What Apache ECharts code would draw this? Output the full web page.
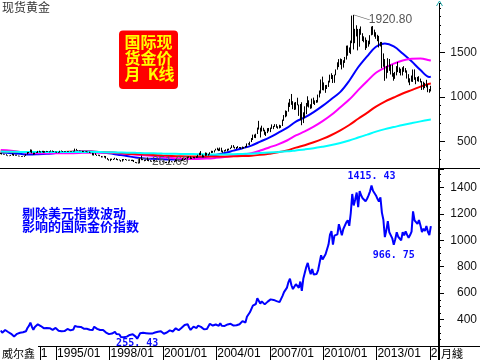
<!DOCTYPE html>
<html><head><meta charset="utf-8">
<script src="https://cdn.jsdelivr.net/npm/echarts@6/dist/echarts.min.js"></script>
<style>html,body{margin:0;padding:0;background:#fff}#c{width:480px;height:360px}</style>
</head><body><div id="c"></div>
<script>
// ---- categories: monthly, 1991/11 .. 2016/06 ----
const startYear = 1991, startMonth = 11, monthCount = 296;
const months = [];
for (let i = 0; i < monthCount; i++) {
  const t = startMonth - 1 + i;
  const y = startYear + Math.floor(t / 12), m = t % 12 + 1;
  months.push(y + '/' + (m < 10 ? '0' : '') + m);
}

// ---- spot gold monthly K (1991/11 .. 2016/01) ----
const kOpen = [358,366,
353,354,353,341,336,337,343,357,340,349,339,334,
333,330,327,337,354,377,378,401,372,355,370,371,
391,378,381,391,376,387,386,384,385,394,383,383,
383,375,376,392,389,385,387,383,382,384,383,387,
387,405,400,396,392,391,382,385,386,379,379,371,
369,345,364,348,340,345,334,326,325,332,311,296,
290,304,297,301,310,294,296,288,273,293,292,294,
288,287,287,279,286,268,261,255,254,299,299,291,
290,283,293,277,275,272,288,277,278,273,264,270,
273,266,267,258,264,267,270,265,273,293,278,275,
279,282,297,302,308,326,318,304,312,324,317,317,
347,368,348,334,337,364,346,354,376,385,386,398,
417,401,397,424,388,394,395,391,408,416,428,453,
438,422,435,428,435,417,436,430,434,473,470,495,
517,569,556,582,653,643,613,633,624,599,604,646,
632,650,665,662,679,659,650,665,673,743,789,783,
834,924,972,916,865,885,928,912,833,871,718,815,
884,928,942,916,884,979,927,954,955,1007,1040,1182,
1096,1083,1118,1113,1180,1213,1244,1181,1248,1307,1357,1385,
1421,1332,1410,1439,1556,1536,1500,1628,1826,1620,1722,1746,
1564,1737,1697,1668,1664,1561,1604,1614,1692,1773,1719,1712,
1675,1663,1578,1596,1476,1393,1234,1312,1396,1326,1323,1253,
1202,1244,1326,1284,1296,1250,1327,1282,1287,1210,1171,1182,
1184,1283,1213,1183,1183,1190,1172,1095,1133,1115,1142,1065,
1061];
const kClose = [366,353,
354,353,341,336,337,343,357,340,349,339,334,333,
330,327,337,354,377,378,401,372,355,370,371,391,
378,381,391,376,387,386,384,385,394,383,383,383,
375,376,392,389,385,387,383,382,384,383,387,387,
405,400,396,392,391,382,385,386,379,379,371,369,
345,364,348,340,345,334,326,325,332,311,296,290,
304,297,301,310,294,296,288,273,293,292,294,288,
287,287,279,286,268,261,255,254,299,299,291,290,
283,293,277,275,272,288,277,278,273,264,270,273,
266,267,258,264,267,270,265,273,293,278,275,279,
282,297,302,308,326,318,304,312,324,317,317,347,
368,348,334,337,364,346,354,376,385,386,398,417,
401,397,424,388,394,395,391,408,416,428,453,438,
422,435,428,435,417,436,430,434,473,470,495,517,
569,556,582,653,643,613,633,624,599,604,646,632,
650,665,662,679,659,650,665,673,743,789,783,834,
924,972,916,865,885,928,912,833,871,718,815,884,
928,942,916,884,979,927,954,955,1007,1040,1182,1096,
1083,1118,1113,1180,1213,1244,1181,1248,1307,1357,1385,1421,
1332,1410,1439,1556,1536,1500,1628,1826,1620,1722,1746,1564,
1737,1697,1668,1664,1561,1604,1614,1692,1773,1719,1712,1675,
1663,1578,1596,1476,1393,1234,1312,1396,1326,1323,1253,1202,
1244,1326,1284,1296,1250,1327,1282,1287,1210,1171,1182,1184,
1283,1213,1183,1183,1190,1172,1095,1133,1115,1142,1065,1061,
1118];
const kLow = [356,351,
350,350,339,333,333,336,342,336,338,338,330,330,
326,326,325,336,353,366,377,366,349,353,368,369,
376,374,377,371,373,381,381,376,383,383,380,375,
371,371,373,387,380,382,382,380,380,380,382,384,
386,396,394,389,389,379,379,384,378,377,369,366,
342,340,346,336,337,332,318,320,317,306,293,283,
277,291,290,297,290,286,285,271,272,286,290,283,
282,283,278,277,267,257,253,251.69,254,288,288,276,
280,280,276,272,270,272,274,271,270,263,262,266,
263,255,255,254,263,265,264,264,271,276,272,271,
277,281,289,298,306,315,300,301,310,307,313,316,
343,344,319,319,336,339,339,351,368,370,375,397,
399,390,392,381,371,383,388,387,398,412,424,429,
418,412,424,422,414,415,418,428,433,463,455,491,
515,539,536,582,632,543,610,613,573,560,592,611,
603,640,637,662,652,641,645,651,672,730,770,780,
833,886,910,861,852,856,905,786,737,681,705,760,
805,890,880,865,870,920,908,932,936,993,1037,1075,
1072,1045,1088,1111,1161,1200,1155,1157,1242,1305,1334,1360,
1308,1328,1381,1419,1462,1494,1480,1603,1532,1603,1679,1522,
1563,1697,1627,1613,1527,1547,1564,1590,1691,1697,1676,1652,
1625,1555,1566,1321,1338,1180,1206,1270,1292,1251,1226,1181,
1202,1241,1277,1268,1240,1240,1281,1272,1205,1161,1131,1170,
1167,1191,1142,1175,1170,1162,1077,1080,1098,1106,1052,1046,
1061];
const kHigh = [371,368,
360,358,355,342,340,346,363,358,350,350,340,337,
335,334,339,356,380,380,409,406,373,372,378,392,
395,387,393,393,390,392,390,387,398,397,391,385,
384,380,394,397,390,391,390,389,388,388,390,393,
418,415,401,397,394,392,389,390,389,384,383,373,
370,366,366,350,350,348,335,330,336,335,313,299,
305,305,303,315,310,301,296,290,301,300,301,295,
293,294,292,293,290,268,265,262,308,339,300,292,
295,318,296,288,281,293,292,280,279,276,271,276,
274,268,270,266,292,277,271,282,297,294,285,281,
294,311,303,312,327,331,331,317,326,325,333,349,
372,390,352,341,375,371,359,377,394,392,400,417,
428,417,430,428,397,401,410,416,418,430,456,457,
438,436,446,436,435,441,437,448,476,478,496,537,
575,576,585,654,730,653,676,652,630,607,648,650,
654,690,673,693,692,669,686,680,744,795,847,842,
935,976,1032,951,936,942,990,913,919,939,826,893,
931,1006,961,916,980,991,960,964,1025,1071,1195,1227,
1162,1132,1134,1181,1249,1265,1245,1250,1308,1388,1424,1431,
1424,1411,1448,1575,1577,1555,1632,1913,1920.8,1764,1804,1763,
1764,1791,1715,1680,1667,1640,1631,1693,1790,1796,1755,1726,
1697,1685,1617,1617,1488,1424,1347,1434,1425,1362,1362,1267,
1280,1345,1392,1331,1315,1332,1345,1323,1297,1255,1208,1239,
1307,1308,1220,1224,1232,1205,1177,1170,1157,1191,1143,1088,
1124];

// ---- moving averages (read at half-year points) ----
const maMonths = ['1991/11','1992/06','1992/12','1993/06','1993/12','1994/06','1994/12','1995/06','1995/12',
'1996/06','1996/12','1997/06','1997/12','1998/06','1998/12','1999/06','1999/12','2000/06','2000/12',
'2001/06','2001/12','2002/06','2002/12','2003/06','2003/12','2004/06','2004/12','2005/06','2005/12',
'2006/06','2006/12','2007/06','2007/12','2008/06','2008/12','2009/06','2009/12','2010/06','2010/12',
'2011/06','2011/12','2012/06','2012/12','2013/06','2013/12','2014/06','2014/12','2015/06','2015/12','2016/01'];
const maBlue = [375,367,359,351,354,359,368,376,383,386,385,377,365,350,335,318,308,303,298,296,298,303,312,326,345,368,395,422,452,497,542,595,650,722,768,828,898,976,1056,1181,1332,1455,1563,1598,1566,1487,1399,1301,1223,1227];
const maMagenta = [401,393,381,371,367,367,367,367,367,370,372,372,370,365,358,350,342,334,324,314,306,302,302,306,314,324,336,350,367,396,431,466,509,566,611,664,726,798,883,969,1075,1175,1270,1327,1373,1409,1427,1432,1410,1407];
const maRed = [385,383,381,379,379,380,380,381,382,383,382,380,376,370,361,356,351,346,340,335,331,329,328,328,329,330,331,334,338,348,361,376,398,429,456,489,527,571,623,683,753,820,889,946,992,1037,1076,1115,1147,1150];
const maCyan = [385,383,381,379,379,380,380,380,380,381,380,379,377,375,372,370,367,365,362,360,358,357,355,353,352,353,355,358,361,368,374,380,387,398,409,422,439,458,481,509,542,575,609,637,660,683,704,724,742,744];

// ---- index excluding USD-index effect (monthly) ----
const goldIndex = [318,300,
315,321,314,306,300,292,293,272,283,292,297,300,
307,304,307,312,336,352,377,346,323,344,349,364,
355,351,356,335,348,336,334,335,339,322,333,337,
323,316,314,311,316,313,314,329,323,318,325,325,
352,344,345,345,344,336,331,332,330,330,323,325,
321,346,331,330,324,321,326,322,325,302,293,290,
304,294,301,307,291,296,288,268,272,266,276,271,
276,284,279,289,276,271,255.43,259,296,299,300,296,
297,311,294,303,294,305,302,311,308,306,311,298,
293,299,302,306,318,324,310,308,334,320,319,326,
338,353,359,354,365,340,322,334,347,339,336,354,
368,345,334,327,339,329,343,368,358,355,358,363,
353,353,373,353,351,352,352,363,366,368,371,355,
354,357,360,365,363,388,378,378,421,423,455,470,
506,500,518,562,547,521,538,530,515,513,536,531,
553,559,549,557,540,533,532,545,580,608,595,642,
684,710,660,631,646,668,666,641,688,617,709,716,
798,829,779,743,783,742,754,745,775,790,887,855,
856,894,902,968,1043,1070,968,1036,1033,1045,1122,1123,
1039,1086,1094,1136,1152,1110,1205,1351,1264,1309,1362,1251,
1372,1341,1318,1315,1296,1315,1340,1371,1415.43,1375,1370,1340,
1314,1294,1325,1210,1156,1024,1076,1145,1061,1058,1015,966.75,
1008,1061,1027,1037,1000,1062,1038,1068,1041,1019,1040,1066,
1219,1152,1159,1124,1154,1113,1062,1088,1070,1108,1065,1040,
1107];

// ---- axis tick labels ----
const topTicks = [500, 1000, 1500];
const bottomTicks = [400, 600, 800, 1000, 1200, 1400];
const xTickMonths = ['1994/02','1995/01','1998/01','2001/01','2004/01','2007/01','2010/01','2013/01','2016/01'];
const xTickTexts  = ['1','1995/01','1998/01','2001/01','2004/01','2007/01','2010/01','2013/01','2'];

// ---- build ----
const kData = kOpen.map((o, i) => [o, kClose[i], kLow[i], kHigh[i]]);
const pair = arr => maMonths.map((m, i) => [m, arr[i]]);
const xLabelMap = {}; xTickMonths.forEach((m, i) => xLabelMap[m] = xTickTexts[i]);
const isTick = (idx, val) => xLabelMap[val] !== undefined;
let peakIdx = 0; goldIndex.forEach((v, i) => { if (v > goldIndex[peakIdx]) peakIdx = i; });
let lowAfter = peakIdx; for (let i = peakIdx; i < goldIndex.length; i++) if (goldIndex[i] < goldIndex[lowAfter]) lowAfter = i;

const FONT = '"Liberation Sans", Arial, sans-serif';
const CJK = '"Noto Sans CJK SC", sans-serif';
const monoLabel = {color: '#0a0aff', fontWeight: 'bold', fontSize: 10, fontFamily: '"DejaVu Sans Mono", monospace',
  formatter: p => Number(p.value).toFixed(2).replace('.', '. ')};

const maLine = (name, arr, color) => ({
  type: 'line', name, xAxisIndex: 0, yAxisIndex: 0, data: pair(arr), showSymbol: false,
  smooth: 0.35, lineStyle: {color, width: 2}, itemStyle: {color}, z: 3, silent: true
});

const chart = echarts.init(document.getElementById('c'), null, {renderer: 'canvas'});
chart.setOption({
  animation: false,
  backgroundColor: '#fff',
  textStyle: {fontFamily: FONT},
  grid: [
    {left: 0, right: 41, top: 3.4, height: 164.6, containLabel: false, outerBoundsMode: 'none'},
    {left: 0, right: 41, top: 169, height: 177, containLabel: false, outerBoundsMode: 'none'},
    {left: 0, right: 41, top: 3.4, height: 164.6, containLabel: false, outerBoundsMode: 'none'}
  ],
  xAxis: [
    {gridIndex: 0, type: 'category', data: months, show: false},
    {gridIndex: 1, type: 'category', data: months, boundaryGap: true,
      axisLine: {show: false},
      axisTick: {show: true, interval: isTick, length: 14, lineStyle: {color: '#000', width: 1}},
      axisLabel: {show: true, interval: isTick, formatter: v => xLabelMap[v] || '', align: 'left',
        margin: 2, color: '#000', fontSize: 12, fontFamily: FONT},
      splitLine: {show: false}},
    {gridIndex: 2, type: 'category', data: months, show: false}
  ],
  yAxis: [
    {gridIndex: 0, type: 'value', position: 'right', min: 200, max: 2050, interval: 100,
      axisLine: {show: true, lineStyle: {color: '#000', width: 1}},
      axisTick: {show: true, length: 2, lineStyle: {color: '#000'}},
      axisLabel: {show: false}, splitLine: {show: false}},
    {gridIndex: 1, type: 'value', position: 'right', min: 200, max: 1540, interval: 200,
      axisLine: {show: true, lineStyle: {color: '#000', width: 2}},
      axisTick: {show: true, length: 5, lineStyle: {color: '#000'}},
      minorTick: {show: true, splitNumber: 4, length: 2, lineStyle: {color: '#000'}},
      axisLabel: {show: true, align: 'right', margin: 38, color: '#111', fontSize: 12, fontFamily: FONT,
        formatter: v => bottomTicks.includes(v) ? String(v) : ''},
      splitLine: {show: false}},
    {gridIndex: 2, type: 'value', position: 'right', min: 200, max: 2050, interval: 100,
      axisLine: {show: false},
      axisTick: {show: true, length: 6, customValues: topTicks, lineStyle: {color: '#000'}},
      axisLabel: {show: true, customValues: topTicks, align: 'right', margin: 38, color: '#222', fontSize: 12,
        fontFamily: FONT, formatter: v => topTicks.includes(v) ? String(v) : ''},
      splitLine: {show: false}}
  ],
  series: [
    maLine('MA-blue', maBlue, '#0000ff'),
    maLine('MA-magenta', maMagenta, '#ff00ff'),
    maLine('MA-red', maRed, '#ff0000'),
    maLine('MA-cyan', maCyan, '#00ffff'),
    {type: 'candlestick', name: 'K', xAxisIndex: 0, yAxisIndex: 0, data: kData, barWidth: 1, z: 5, silent: true,
      itemStyle: {color: '#000', color0: '#000', borderColor: '#000', borderColor0: '#000', borderWidth: 1},
      markPoint: {
        silent: true,
        itemStyle: {color: 'rgba(0,0,0,0)', borderColor: '#666', borderWidth: 1},
        label: {show: true, color: '#555', fontSize: 12, fontFamily: FONT,
          formatter: p => Number(p.value).toFixed(2)},
        data: [
          {type: 'max', valueDim: 'highest', symbol: 'path://M0,0L16,5', symbolSize: [16, 5], symbolOffset: [8, 2.5],
            label: {position: [16, -1]}},
          {type: 'min', valueDim: 'lowest', symbol: 'path://M0,5L0,0L12,0', symbolSize: [12, 5], symbolOffset: [6, -2.5],
            label: {position: [14, -2]}}
        ]
      }},
    {type: 'line', name: 'index', xAxisIndex: 1, yAxisIndex: 1, data: goldIndex, showSymbol: false,
      lineStyle: {color: '#0000ff', width: 2}, itemStyle: {color: '#0000ff'}, z: 3, silent: true,
      markPoint: {
        silent: true, symbol: 'circle', symbolSize: 1, itemStyle: {color: 'rgba(0,0,0,0)'},
        label: monoLabel,
        data: [
          {type: 'max', label: {position: 'top', distance: 4}},
          {type: 'min', label: {position: 'bottom', distance: -1}},
          {coord: [months[lowAfter], goldIndex[lowAfter]], value: goldIndex[lowAfter], label: {position: 'bottom', distance: 5}}
        ]
      }}
  ],
  graphic: [
    {type: 'text', left: 2, top: 1, z: 100, style: {text: '现货黄金', fill: '#333', font: '12px ' + CJK}},
    {type: 'rect', z: 100, shape: {x: 119, y: 30.5, width: 59, height: 58.5, r: 4}, style: {fill: '#ff0000'}},
    {type: 'text', z: 101, x: 148.5, y: 34, style: {text: '国际现', fill: '#ffff00', font: 'bold 16px ' + CJK, textAlign: 'center'}},
    {type: 'text', z: 101, x: 148.5, y: 50, style: {text: '货金价', fill: '#ffff00', font: 'bold 16px ' + CJK, textAlign: 'center'}},
    {type: 'text', z: 101, x: 149.5, y: 66, style: {text: '月  K线', fill: '#ffff00', font: 'bold 16px ' + CJK, textAlign: 'center'}},
    {type: 'text', z: 100, x: 22, y: 207, style: {text: '剔除美元指数波动', fill: '#0000ff', font: 'bold 13px ' + CJK}},
    {type: 'text', z: 100, x: 22, y: 220, style: {text: '影响的国际金价指数', fill: '#0000ff', font: 'bold 13px ' + CJK}},
    {type: 'line', z: 100, shape: {x1: 0, y1: 168.5, x2: 480, y2: 168.5}, style: {stroke: '#000', lineWidth: 1}},
    {type: 'line', z: 100, shape: {x1: 38, y1: 346.5, x2: 480, y2: 346.5}, style: {stroke: '#000', lineWidth: 1}},
    {type: 'line', z: 100, shape: {x1: 439, y1: 346, x2: 439, y2: 360}, style: {stroke: '#000', lineWidth: 2}},
    {type: 'polyline', z: 100, shape: {points: [[436.5, 6], [439.5, 1], [442.5, 6]]}, style: {stroke: '#2aa', lineWidth: 1, fill: null}},
    {type: 'text', z: 100, x: 2, y: 348, style: {text: '威尔鑫', fill: '#000', font: '11px ' + CJK}},
    {type: 'text', z: 100, x: 441, y: 348, style: {text: '月綫', fill: '#000', font: '11px ' + CJK}}
  ]
});
</script>
</body></html>
